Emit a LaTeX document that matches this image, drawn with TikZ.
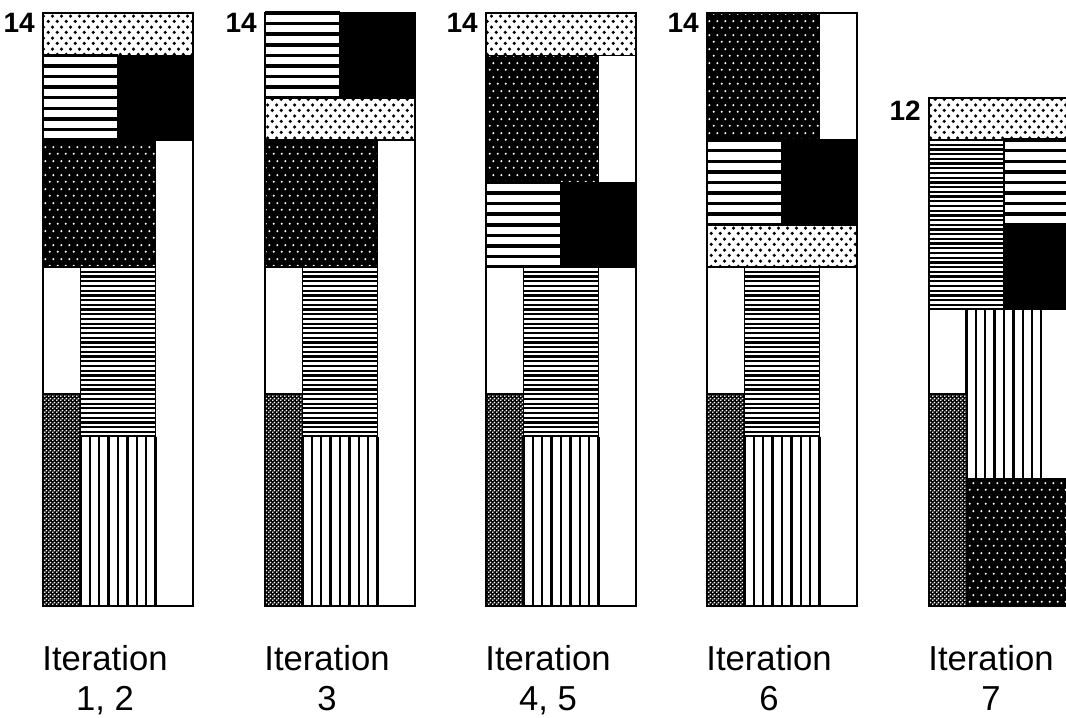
\documentclass[tikz,border=0pt]{standalone}
\usepackage{fontspec}
\setmainfont{Liberation Sans}
\usetikzlibrary{patterns.meta}

% Punktraster
\tikzdeclarepattern{name=hellpunkte, type=uncolored,
  bounding box={(0pt,0pt) and (7pt,8.4pt)}, tile size={(7pt,8.4pt)},
  code={\pgfpathcircle{\pgfpoint{1.75pt}{2.1pt}}{1.4pt}
        \pgfpathcircle{\pgfpoint{5.25pt}{6.3pt}}{1.4pt}
        \pgfusepath{fill}}}
\tikzdeclarepattern{name=dunkelpunkte, type=uncolored,
  bounding box={(0pt,0pt) and (6pt,10.5pt)}, tile size={(6pt,10.5pt)},
  code={\pgfpathcircle{\pgfpoint{1.5pt}{2.6pt}}{0.95pt}
        \pgfpathcircle{\pgfpoint{4.5pt}{7.9pt}}{0.95pt}
        \pgfusepath{fill}}}
\tikzdeclarepattern{name=graupunkte, type=uncolored,
  bounding box={(0pt,0pt) and (3pt,3pt)}, tile size={(3pt,3pt)},
  code={\pgfpathcircle{\pgfpoint{0.75pt}{0.75pt}}{0.82pt}
        \pgfpathcircle{\pgfpoint{2.25pt}{2.25pt}}{0.82pt}
        \pgfusepath{fill}}}

% Feld: linker Rand, Spalte/Zeile oben links, Spalte/Zeile unten rechts, Stil
\newcommand\feld[6]{%
  \pgfmathsetmacro\fxa{#1+37.5*#2}\pgfmathsetmacro\fxb{#1+37.5*#4}%
  \pgfmathsetmacro\fya{13+42.36*#3}\pgfmathsetmacro\fyb{13+42.36*#5}%
  \path[#6] (\fxa,\fya) rectangle (\fxb,\fyb);}

% Streifen
\newcommand\quer[5]{\feld{#1}{#2}{#3}{#4}{#5}{leer}%
  \pgfmathtruncatemacro\fn{4*(#5-#3)}%
  \foreach \k in {0,...,\fn}
    \draw[line width=2.6pt] (\fxa,{\fya+10.59*\k}) -- (\fxb,{\fya+10.59*\k});}
\newcommand\fein[5]{\feld{#1}{#2}{#3}{#4}{#5}{leer}%
  \pgfmathtruncatemacro\fn{9*(#5-#3)}%
  \foreach \k in {0,...,\fn}
    \draw[line width=1.7pt] (\fxa,{\fya+4.7067*\k}) -- (\fxb,{\fya+4.7067*\k});}
\newcommand\laengs[5]{\feld{#1}{#2}{#3}{#4}{#5}{leer}%
  \pgfmathtruncatemacro\fn{4*(#4-#2)}%
  \foreach \k in {0,...,\fn}
    \draw[line width=1.8pt] ({\fxa+9.375*\k},\fya) -- ({\fxa+9.375*\k},\fyb);}

% gemeinsamer unterer Teil
\newcommand\sockel[2]{%
  \feld{#1}{3}{#2}{4}{14}{leer}
  \feld{#1}{0}{6}{1}{9}{leer}
  \fein{#1}{1}{6}{3}{10}
  \feld{#1}{0}{9}{1}{14}{grau}
  \laengs{#1}{1}{10}{3}{14}}

\begin{document}
\begin{tikzpicture}[x=0.75pt, y=-0.75pt,
    rand/.style = {draw, line width=1.2pt},
    leer/.style = {rand, fill=white},
    schwarz/.style = {rand, fill=black},
    punkte/.style = {rand, preaction={fill=white}, pattern=hellpunkte},
    dunkel/.style = {rand, preaction={fill=black}, pattern=dunkelpunkte, pattern color=white},
    grau/.style = {rand, preaction={fill=black}, pattern=graupunkte, pattern color=white},
    rahmen/.style = {draw, line width=1.5pt},
    nummer/.style = {font=\bfseries\fontsize{21}{21}\selectfont, inner sep=0pt, anchor=north east},
    iter/.style = {font=\fontsize{26}{30}\selectfont, align=center, inner sep=0pt, anchor=north}
  ]
  \useasboundingbox (0,0) rectangle (1066,717);
  \clip (0,0) rectangle (1066,717);

  %Spalte 1
  \feld{43}{0}{0}{4}{1}{punkte}
  \quer{43}{0}{1}{2}{3}
  \feld{43}{2}{1}{4}{3}{schwarz}
  \feld{43}{0}{3}{3}{6}{dunkel}
  \sockel{43}{3}
  \draw[rahmen] (43,13) rectangle (193,606);

  %Spalte 2
  \quer{265}{0}{0}{2}{2}
  \feld{265}{2}{0}{4}{2}{schwarz}
  \feld{265}{0}{2}{4}{3}{punkte}
  \feld{265}{0}{3}{3}{6}{dunkel}
  \sockel{265}{3}
  \draw[rahmen] (265,13) rectangle (415,606);

  %Spalte 3
  \feld{486}{0}{0}{4}{1}{punkte}
  \feld{486}{0}{1}{3}{4}{dunkel}
  \feld{486}{3}{1}{4}{4}{leer}
  \quer{486}{0}{4}{2}{6}
  \feld{486}{2}{4}{4}{6}{schwarz}
  \sockel{486}{6}
  \draw[rahmen] (486,13) rectangle (636,606);

  %Spalte 4
  \feld{707}{0}{0}{3}{3}{dunkel}
  \feld{707}{3}{0}{4}{3}{leer}
  \quer{707}{0}{3}{2}{5}
  \feld{707}{2}{3}{4}{5}{schwarz}
  \feld{707}{0}{5}{4}{6}{punkte}
  \sockel{707}{6}
  \draw[rahmen] (707,13) rectangle (857,606);

  %Spalte 5
  \feld{929}{0}{2}{4}{3}{punkte}
  \fein{929}{0}{3}{2}{7}
  \quer{929}{2}{3}{4}{5}
  \feld{929}{2}{5}{4}{7}{schwarz}
  \feld{929}{0}{7}{1}{9}{leer}
  \laengs{929}{1}{7}{3}{11}
  \feld{929}{3}{7}{4}{11}{leer}
  \feld{929}{0}{9}{1}{14}{grau}
  \feld{929}{1}{11}{4}{14}{dunkel}
  \draw[rahmen] (929,97.7) rectangle (1079,606);

  %Beschriftung
  \node[nummer] (hoehe1) at (35,13) {14};
  \node[nummer] (hoehe2) at (257,13) {14};
  \node[nummer] (hoehe3) at (478,13) {14};
  \node[nummer] (hoehe4) at (699,13) {14};
  \node[nummer] (hoehe5) at (921,101) {12};

  \node[iter] (it1) at (105,645) {Iteration\\1, 2};
  \node[iter] (it2) at (327,645) {Iteration\\3};
  \node[iter] (it3) at (548,645) {Iteration\\4, 5};
  \node[iter] (it4) at (769,645) {Iteration\\6};
  \node[iter] (it5) at (991,645) {Iteration\\7};
\end{tikzpicture}
\end{document}
